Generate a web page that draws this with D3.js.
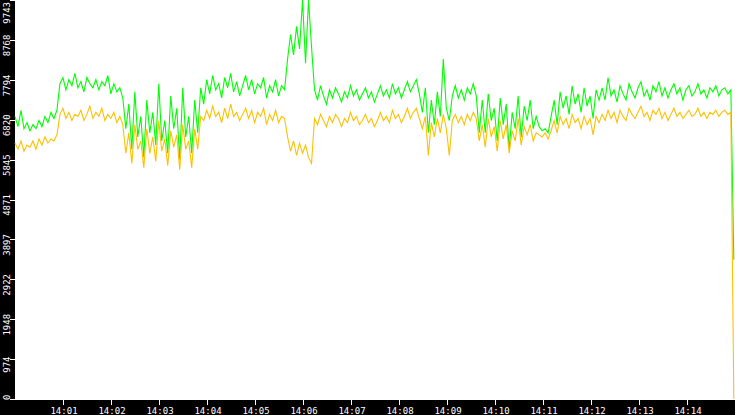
<!DOCTYPE html>
<html>
<head>
<meta charset="utf-8">
<script src="https://cdn.jsdelivr.net/npm/d3@7"></script>
<style>
  html, body { margin: 0; padding: 0; background: #fff; }
  svg { display: block; }
  text { font-family: "DejaVu Sans Mono", monospace; font-size: 9px; fill: #fff; }
</style>
</head>
<body>
<svg id="chart_svg"></svg>
<script>
// time range of the samples
const startTime = new Date(2000, 0, 1, 14, 0, 0);
const endTime = new Date(2000, 0, 1, 14, 15, 0);
const stepMs = 3744;

const yMax = 9743;
const yTicks = [0, 974, 1948, 2922, 3897, 4871, 5845, 6820, 7794, 8768, 9743];
const xTickMinutes = [1, 2, 3, 4, 5, 6, 7, 8, 9, 10, 11, 12, 13, 14];

// green series
const greenValues = [
  6900, 6650, 7050, 6600, 6750, 6550, 6700, 6600, 6800, 6650, 6900, 6750, 7000, 6850, 7050,
  7700, 7850, 7550, 7800, 7650, 7950, 7600, 7750, 7500, 7850, 7700, 7600, 7800, 7550, 7750, 7650, 7900, 7450, 7700, 7500, 7600, 7350,
  6600, 7200, 6100, 7500, 6400, 6900, 5900, 7300, 6500, 7000, 6200, 7700, 6300, 6800, 6000, 7400, 6600, 7100, 5850, 7600, 6400, 6900,
  6000, 7300, 6500, 7600, 7200,
  7800, 7450, 7900, 7550, 7700, 7350, 7850, 7600, 7950, 7500, 7750, 7400, 7650, 7900, 7550, 7800, 7450, 7700, 7600, 7850, 7350, 7650, 7500, 7800, 7400, 7650, 7550,
  8300, 8900, 8400, 9100, 8550, 9743, 8200, 9743, 8600,
  7550, 7300, 7650, 7400, 7200, 7550, 7350, 7600, 7450, 7250, 7500, 7350, 7650, 7400, 7550, 7300, 7450, 7600, 7350, 7500, 7250, 7450, 7650, 7400, 7550, 7350, 7700, 7450, 7600, 7350, 7550, 7750, 7500, 7650, 7800, 7450,
  7000, 7600, 6500, 7300, 6700, 7500, 6900, 8300, 7100, 6800,
  7400, 7650, 7350, 7550, 7300, 7600, 7450, 7700, 7400, 6500,
  7300, 6500, 7450, 6800, 7100, 6300, 7350, 6700, 7200, 6100, 7000, 6600, 7400, 6400, 7150, 6800, 7300, 6600, 6900, 6650,
  6550, 6600, 6500,
  6900, 7300, 6700, 7500, 7100, 7400, 6950, 7650, 7200, 7450, 7000, 7600, 7150, 7400, 6850, 7550, 7300,
  7600, 7300, 7850, 7400, 7550, 7250, 7650, 7450, 7300, 7700, 7500, 7350, 7600, 7750, 7400, 7550, 7300, 7650, 7500, 7750, 7400, 7600,
  7350, 7550, 7700, 7450, 7600, 7300, 7550, 7650, 7400, 7500, 7700, 7450, 7550, 7350, 7600, 7500, 7650, 7400, 7550, 7600, 7450, 7550,
  3400
];

// orange series
const orangeValues = [
  6250, 6100, 6300, 6050, 6200, 6150, 6300, 6100, 6350, 6200, 6400, 6250, 6350, 6300, 6450,
  6950, 7100, 6850, 7000, 6800, 6950, 6900, 7050, 6800, 6950, 7150, 6850, 7000, 6900, 7100, 6800, 6950, 6850, 7000, 6750, 6900, 6700,
  6000, 6500, 5750, 6700, 6100, 6300, 5650, 6600, 6000, 6400, 5800, 6800, 6050, 6350, 5700, 6550, 6150, 6450, 5600, 6700, 6100, 6300,
  5650, 6600, 6100, 6900, 6800,
  7050, 6850, 7150, 6900, 7000, 6750, 7100, 6850, 7200, 6900, 7000, 6800, 6950, 7100, 6850, 7050, 6750, 7000, 6900, 7100, 6700, 6950, 6800, 7050, 6750, 6900, 6850,
  6400, 6050, 6300, 5950, 6250, 6000, 6200, 5900, 5750,
  6850, 6700, 6950, 6800, 6650, 6900, 6750, 6950, 6850, 6650, 6850, 6750, 7000, 6800, 6900, 6700, 6800, 6950, 6750, 6850, 6650, 6800, 7000, 6800, 6900, 6750, 7050, 6850, 6950, 6750, 6900, 7100, 6850, 7000, 7100, 6850,
  6600, 6900, 5950, 6750, 6400, 6850, 6500, 6950, 6600, 5950,
  6800, 6950, 6750, 6900, 6700, 6950, 6800, 7000, 6850, 6300,
  6700, 6150, 6850, 6400, 6650, 6050, 6800, 6350, 6700, 6000, 6550, 6300, 6850, 6200, 6650, 6450, 6700, 6300, 6500, 6450,
  6400, 6500, 6350,
  6550, 6800, 6500, 6900, 6700, 6850, 6600, 6950, 6750, 6850, 6600, 6900, 6700, 6850, 6450, 6900, 6750,
  6950, 6800, 7050, 6850, 7000, 6750, 7050, 6900, 6800, 7100, 6950, 6850, 7000, 7150, 6900, 7000, 6800, 7050, 6950, 7100, 6850, 7000,
  6800, 6950, 7100, 6900, 7000, 6850, 6950, 7050, 6900, 6950, 7100, 6900, 7000, 6850, 7000, 6950, 7050, 6900, 7000, 7050, 6950, 7000,
  0
];

const width = 735;
const height = 415;
const plotLeft = 15;
const plotBottom = 399;

const svg = d3.select("#chart_svg")
  .attr("width", width)
  .attr("height", height);

// background and black axis bands
svg.append("rect").attr("width", width).attr("height", height).attr("fill", "#fff");
svg.append("rect").attr("x", 0).attr("y", 0).attr("width", plotLeft).attr("height", height).attr("fill", "#000");
svg.append("rect").attr("x", 0).attr("y", plotBottom + 1).attr("width", width).attr("height", height - plotBottom - 1).attr("fill", "#000");

const x = d3.scaleTime().domain([startTime, endTime]).range([plotLeft, width]);
const y = d3.scaleLinear().domain([0, yMax]).range([plotBottom, 0]);

const timeAt = i => new Date(startTime.getTime() + i * stepMs);

const line = d3.line()
  .x((d, i) => x(timeAt(i)))
  .y(d => y(d));

[[greenValues, "#00ff00"], [orangeValues, "#ffc000"]].forEach(([vals, color]) => {
  svg.append("path")
    .datum(vals)
    .attr("d", line)
    .attr("fill", "none")
    .attr("stroke", color)
    .attr("stroke-width", 1.1);
});

// y axis
const yAxis = svg.append("g").attr("class", "y-axis");
yAxis.selectAll("line")
  .data(yTicks)
  .enter().append("line")
  .attr("x1", 10)
  .attr("x2", plotLeft)
  .attr("y1", d => Math.round(y(d)) + 0.5)
  .attr("y2", d => Math.round(y(d)) + 0.5)
  .attr("stroke", "#fff")
  .attr("stroke-width", 1);

yAxis.selectAll("text")
  .data(yTicks)
  .enter().append("text")
  .attr("text-anchor", "middle")
  .text(d => d)
  .each(function(d) {
    const half = this.getComputedTextLength() / 2;
    let cy = y(d) + 5.5;
    cy = Math.max(cy, half + 2);
    cy = Math.min(cy, plotBottom + 1 - half);
    d3.select(this).attr("transform", `translate(10,${cy}) rotate(-90)`);
  });

// x axis
const xTicks = xTickMinutes.map(m => new Date(2000, 0, 1, 14, m, 0));
const fmt = d3.timeFormat("%H:%M");
const xAxis = svg.append("g").attr("class", "x-axis");
xAxis.selectAll("line")
  .data(xTicks)
  .enter().append("line")
  .attr("x1", d => Math.round(x(d)) + 0.5)
  .attr("x2", d => Math.round(x(d)) + 0.5)
  .attr("y1", plotBottom + 1)
  .attr("y2", plotBottom + 6)
  .attr("stroke", "#fff")
  .attr("stroke-width", 1);

xAxis.selectAll("text")
  .data(xTicks)
  .enter().append("text")
  .attr("x", d => x(d) + 1)
  .attr("y", 414)
  .attr("text-anchor", "middle")
  .text(d => fmt(d));
</script>
</body>
</html>
